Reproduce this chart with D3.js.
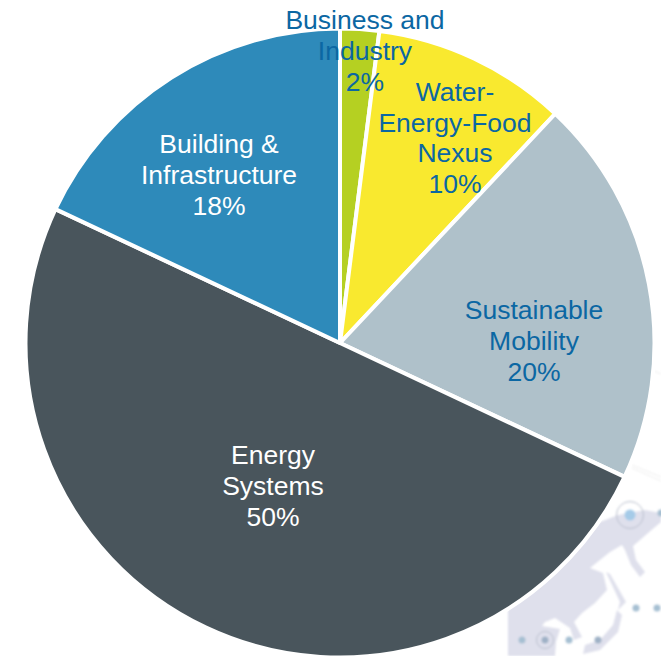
<!DOCTYPE html>
<html>
<head>
<meta charset="utf-8">
<script src="https://cdn.jsdelivr.net/npm/d3@7"></script>
<style>
html,body{margin:0;padding:0;background:#fff;overflow:hidden}
text{font-family:"Liberation Sans",Arial,sans-serif}
</style>
</head>
<body>
<svg id="chart" width="661" height="656">
  <defs><filter id="soft"><feGaussianBlur stdDeviation="0.9"/></filter></defs>
</svg>
<script>
// values, clockwise from 12 o'clock
const categories = ["Business and Industry","Water-Energy-Food Nexus","Sustainable Mobility","Energy Systems","Building & Infrastructure"];
const shares = [2,10,20,50,18];
const colors = ["#b5d022","#f9e92f","#afc1ca","#49555c","#2e8aba"];
const textColors = ["#0b67a3","#0b67a3","#0b67a3","#ffffff","#ffffff"];
const labelLines = [["Business and","Industry","2%"],["Water-","Energy-Food","Nexus","10%"],["Sustainable","Mobility","20%"],["Energy","Systems","50%"],["Building &","Infrastructure","18%"]];
const labelCenters = [[365,51],[455,138],[534,341],[273,486],[219,175]];

// faint map behind the lower right corner
const land = [[508,656],[508,610],[600,522],[618,515],[645,510],[661,513],[661,522],[648,533],[640,540],[633,546],[636,560],[645,572],[640,577],[631,565],[625,550],[622,545],[610,552],[590,568],[603,573],[607,590],[595,603],[582,613],[574,622],[582,637],[574,640],[570,628],[555,618],[545,622],[542,626],[560,629],[556,642],[555,656]];
const islands = [[[617,610],[613,625],[600,640],[585,645],[583,654],[600,650],[618,632],[622,615]],[[606,572],[610,574],[626,602],[618,610],[620,602]]];
const mapDots = [[522,640],[569,640],[636,608],[657,608],[661,513]];
const greyDots = [[545,640],[598,640]];
const faintLines = [[[632,465],[661,477]],[[632,468],[661,481]],[[654,371],[661,374]]];
const cx = 340, cy = 343, radius = 314.5;

const svg = d3.select("#chart");
const line = d3.line();
const map = svg.append("g").attr("filter","url(#soft)");
map.append("path").attr("d", line(land)+"Z").attr("fill","#dfe0ec");
map.selectAll(".island").data(islands).enter().append("path")
  .attr("class","island").attr("d",d=>line(d)+"Z").attr("fill","#dfe0ec");
map.selectAll(".faint").data(faintLines).enter().append("path")
  .attr("class","faint").attr("d",d=>line(d)).attr("stroke","#eeeeee").attr("fill","none");
map.selectAll(".dot").data(mapDots).enter().append("circle")
  .attr("class","dot").attr("cx",d=>d[0]).attr("cy",d=>d[1]).attr("r",3.5).attr("fill","#a6bfd2");
map.selectAll(".greydot").data(greyDots).enter().append("circle")
  .attr("class","greydot").attr("cx",d=>d[0]).attr("cy",d=>d[1]).attr("r",3.5).attr("fill","#9fb1c6");
map.append("circle").attr("cx",630).attr("cy",515).attr("r",5.5).attr("fill","#a5cbe8");
map.append("circle").attr("cx",630).attr("cy",515).attr("r",13.5).attr("fill","none").attr("stroke","#b9bfcd");
map.append("circle").attr("cx",545).attr("cy",640).attr("r",8.5).attr("fill","none").attr("stroke","#b9bfcd");

const pie = d3.pie().sort(null)(shares);
const arc = d3.arc().innerRadius(0).outerRadius(radius);
const g = svg.append("g").attr("transform",`translate(${cx},${cy})`);
g.selectAll(".slice").data(pie).enter().append("path")
  .attr("class","slice")
  .attr("d",arc)
  .attr("fill",(d,i)=>colors[i])
  .attr("stroke","#fff")
  .attr("stroke-width",4)
  .attr("stroke-linejoin","round");

const lineHeight = 30.7;
labelLines.forEach((lines,i)=>{
  const t = svg.append("text")
    .attr("text-anchor","middle")
    .attr("font-size",26.5)
    .attr("fill",textColors[i]);
  lines.forEach((s,j)=>{
    t.append("tspan")
      .attr("x",labelCenters[i][0])
      .attr("y",labelCenters[i][1]+(j-(lines.length-1)/2)*lineHeight+9)
      .text(s);
  });
});
</script>
</body>
</html>
